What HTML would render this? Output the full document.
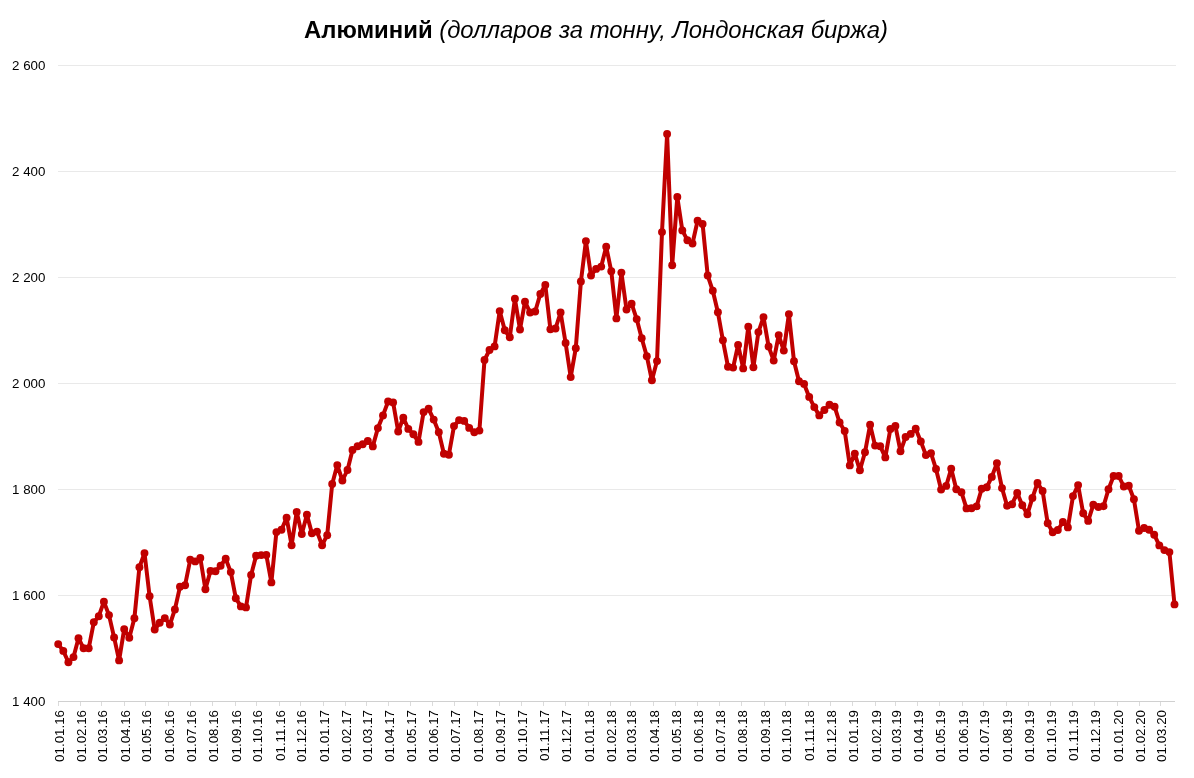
<!DOCTYPE html>
<html lang="ru">
<head>
<meta charset="utf-8">
<title>Алюминий (долларов за тонну, Лондонская биржа)</title>
<style>
html,body{margin:0;padding:0;background:#fff;}
body{width:1194px;height:778px;position:relative;overflow:hidden;font-family:"Liberation Sans",sans-serif;color:#000;}
#chart{position:absolute;left:0;top:0;width:1194px;height:778px;will-change:transform;}
svg{position:absolute;left:0;top:0;display:block;}
.yl{position:absolute;left:0;width:45.4px;text-align:right;font-size:13.33px;line-height:16px;height:16px;white-space:pre;}
.xl{position:absolute;font-size:13.33px;line-height:16px;height:16px;width:60px;text-align:right;white-space:nowrap;transform-origin:100% 50%;transform:rotate(-90deg);}
h1{position:absolute;left:304px;top:14px;margin:0;font-size:24px;line-height:30px;font-weight:bold;white-space:nowrap;color:transparent;width:585px;overflow:hidden;}
h1 i{font-weight:normal;}
</style>
</head>
<body>
<div id="chart">

<svg width="1194" height="778" viewBox="0 0 1194 778">
<g stroke="#e9e9e9" stroke-width="1" fill="none" shape-rendering="crispEdges">
<line x1="58.0" y1="595.5" x2="1175.5" y2="595.5"/>
<line x1="58.0" y1="489.5" x2="1175.5" y2="489.5"/>
<line x1="58.0" y1="383.5" x2="1175.5" y2="383.5"/>
<line x1="58.0" y1="277.5" x2="1175.5" y2="277.5"/>
<line x1="58.0" y1="171.5" x2="1175.5" y2="171.5"/>
<line x1="58.0" y1="65.5" x2="1175.5" y2="65.5"/>
</g>
<g stroke="#dbdbdb" stroke-width="1" fill="none" shape-rendering="crispEdges">
<line x1="58.0" y1="701.5" x2="1175.0" y2="701.5" stroke="#d0d0d0"/>
<line x1="58.50" y1="702.0" x2="58.50" y2="706.0"/>
<line x1="80.50" y1="702.0" x2="80.50" y2="706.0"/>
<line x1="101.50" y1="702.0" x2="101.50" y2="706.0"/>
<line x1="124.50" y1="702.0" x2="124.50" y2="706.0"/>
<line x1="145.50" y1="702.0" x2="145.50" y2="706.0"/>
<line x1="168.50" y1="702.0" x2="168.50" y2="706.0"/>
<line x1="190.50" y1="702.0" x2="190.50" y2="706.0"/>
<line x1="212.50" y1="702.0" x2="212.50" y2="706.0"/>
<line x1="235.50" y1="702.0" x2="235.50" y2="706.0"/>
<line x1="256.50" y1="702.0" x2="256.50" y2="706.0"/>
<line x1="279.50" y1="702.0" x2="279.50" y2="706.0"/>
<line x1="300.50" y1="702.0" x2="300.50" y2="706.0"/>
<line x1="323.50" y1="702.0" x2="323.50" y2="706.0"/>
<line x1="345.50" y1="702.0" x2="345.50" y2="706.0"/>
<line x1="366.50" y1="702.0" x2="366.50" y2="706.0"/>
<line x1="388.50" y1="702.0" x2="388.50" y2="706.0"/>
<line x1="410.50" y1="702.0" x2="410.50" y2="706.0"/>
<line x1="432.50" y1="702.0" x2="432.50" y2="706.0"/>
<line x1="454.50" y1="702.0" x2="454.50" y2="706.0"/>
<line x1="477.50" y1="702.0" x2="477.50" y2="706.0"/>
<line x1="499.50" y1="702.0" x2="499.50" y2="706.0"/>
<line x1="521.50" y1="702.0" x2="521.50" y2="706.0"/>
<line x1="543.50" y1="702.0" x2="543.50" y2="706.0"/>
<line x1="565.50" y1="702.0" x2="565.50" y2="706.0"/>
<line x1="588.50" y1="702.0" x2="588.50" y2="706.0"/>
<line x1="610.50" y1="702.0" x2="610.50" y2="706.0"/>
<line x1="630.50" y1="702.0" x2="630.50" y2="706.0"/>
<line x1="653.50" y1="702.0" x2="653.50" y2="706.0"/>
<line x1="675.50" y1="702.0" x2="675.50" y2="706.0"/>
<line x1="697.50" y1="702.0" x2="697.50" y2="706.0"/>
<line x1="719.50" y1="702.0" x2="719.50" y2="706.0"/>
<line x1="741.50" y1="702.0" x2="741.50" y2="706.0"/>
<line x1="764.50" y1="702.0" x2="764.50" y2="706.0"/>
<line x1="785.50" y1="702.0" x2="785.50" y2="706.0"/>
<line x1="808.50" y1="702.0" x2="808.50" y2="706.0"/>
<line x1="830.50" y1="702.0" x2="830.50" y2="706.0"/>
<line x1="852.50" y1="702.0" x2="852.50" y2="706.0"/>
<line x1="875.50" y1="702.0" x2="875.50" y2="706.0"/>
<line x1="895.50" y1="702.0" x2="895.50" y2="706.0"/>
<line x1="917.50" y1="702.0" x2="917.50" y2="706.0"/>
<line x1="939.50" y1="702.0" x2="939.50" y2="706.0"/>
<line x1="962.50" y1="702.0" x2="962.50" y2="706.0"/>
<line x1="983.50" y1="702.0" x2="983.50" y2="706.0"/>
<line x1="1006.50" y1="702.0" x2="1006.50" y2="706.0"/>
<line x1="1028.50" y1="702.0" x2="1028.50" y2="706.0"/>
<line x1="1050.50" y1="702.0" x2="1050.50" y2="706.0"/>
<line x1="1072.50" y1="702.0" x2="1072.50" y2="706.0"/>
<line x1="1094.50" y1="702.0" x2="1094.50" y2="706.0"/>
<line x1="1117.50" y1="702.0" x2="1117.50" y2="706.0"/>
<line x1="1139.50" y1="702.0" x2="1139.50" y2="706.0"/>
<line x1="1160.50" y1="702.0" x2="1160.50" y2="706.0"/>
</g>
<polyline fill="none" stroke="#c00000" stroke-width="4" stroke-linejoin="round" stroke-linecap="round" points="58.2,644.1 63.3,650.9 68.4,662.3 73.5,657.1 78.5,638.2 83.6,648.3 88.7,648.3 93.8,622.3 98.8,616.2 103.9,601.7 109.0,615.1 114.1,637.4 119.1,660.4 124.2,629.1 129.3,637.7 134.4,618.2 139.4,567.2 144.5,553.1 149.6,596.2 154.7,629.5 159.7,622.8 164.8,618.1 169.9,624.5 174.9,609.4 180.0,586.8 185.1,585.2 190.2,559.8 195.2,561.4 200.3,558.0 205.4,589.3 210.5,570.9 215.5,571.2 220.6,565.8 225.7,558.8 230.8,572.1 235.8,598.2 240.9,606.4 246.0,607.4 251.1,574.9 256.1,555.8 261.2,555.1 266.3,554.9 271.4,582.4 276.4,532.1 281.5,529.8 286.6,517.8 291.6,545.2 296.7,512.0 301.8,534.1 306.9,514.7 311.9,533.3 317.0,531.6 322.1,545.2 327.2,535.2 332.2,483.9 337.3,465.1 342.4,480.5 347.5,470.0 352.5,449.9 357.6,446.3 362.7,444.3 367.8,441.0 372.8,446.4 377.9,428.1 383.0,415.4 388.1,401.5 393.1,402.4 398.2,431.5 403.3,417.8 408.3,428.9 413.4,434.3 418.5,441.9 423.6,412.1 428.6,408.8 433.7,419.6 438.8,432.2 443.9,453.7 448.9,454.7 454.0,426.1 459.1,420.1 464.2,420.9 469.2,427.9 474.3,432.3 479.4,430.6 484.5,360.0 489.5,350.0 494.6,346.4 499.7,311.1 504.8,330.3 509.8,337.3 514.9,298.8 520.0,329.5 525.0,301.7 530.1,312.5 535.2,311.5 540.3,294.0 545.3,285.0 550.4,329.2 555.5,328.5 560.6,312.5 565.6,343.0 570.7,377.1 575.8,348.2 580.9,281.5 585.9,241.1 591.0,275.6 596.1,268.9 601.2,266.6 606.2,246.7 611.3,271.3 616.4,318.4 621.4,272.6 626.5,309.5 631.6,303.7 636.7,319.1 641.7,338.3 646.8,356.2 651.9,380.3 657.0,361.1 662.0,232.1 667.1,134.0 672.2,265.3 677.3,197.0 682.3,230.4 687.4,240.2 692.5,243.5 697.6,220.8 702.6,224.0 707.7,275.5 712.8,290.8 717.9,312.3 722.9,340.3 728.0,366.7 733.1,367.6 738.1,345.0 743.2,368.4 748.3,326.8 753.4,367.3 758.4,332.1 763.5,317.1 768.6,346.5 773.7,360.6 778.7,335.1 783.8,350.6 788.9,314.1 794.0,361.3 799.0,381.3 804.1,383.9 809.2,396.9 814.3,407.1 819.3,415.4 824.4,410.0 829.5,404.8 834.6,406.7 839.6,422.5 844.7,431.0 849.8,465.4 854.8,453.6 859.9,470.3 865.0,452.3 870.1,424.8 875.1,445.6 880.2,446.2 885.3,457.4 890.4,428.9 895.4,425.9 900.5,451.3 905.6,437.0 910.7,433.9 915.7,428.8 920.8,441.4 925.9,455.1 931.0,453.2 936.0,469.0 941.1,489.6 946.2,485.9 951.2,468.8 956.3,489.2 961.4,492.2 966.5,508.4 971.5,508.2 976.6,506.4 981.7,488.8 986.8,487.2 991.8,476.9 996.9,463.1 1002.0,488.1 1007.1,505.7 1012.1,504.2 1017.2,493.0 1022.3,505.3 1027.4,514.3 1032.4,497.9 1037.5,483.0 1042.6,490.9 1047.7,523.3 1052.7,532.2 1057.8,530.0 1062.9,522.0 1067.9,527.4 1073.0,496.1 1078.1,485.1 1083.2,513.3 1088.2,520.9 1093.3,504.8 1098.4,507.0 1103.5,506.2 1108.5,489.2 1113.6,476.0 1118.7,476.0 1123.8,486.5 1128.8,485.8 1133.9,499.2 1139.0,530.7 1144.1,528.0 1149.1,529.8 1154.2,534.7 1159.3,545.4 1164.4,550.1 1169.4,552.1 1174.5,604.4"/>
<g fill="#c00000">
<circle cx="58.2" cy="644.1" r="3.95"/>
<circle cx="63.3" cy="650.9" r="3.95"/>
<circle cx="68.4" cy="662.3" r="3.95"/>
<circle cx="73.5" cy="657.1" r="3.95"/>
<circle cx="78.5" cy="638.2" r="3.95"/>
<circle cx="83.6" cy="648.3" r="3.95"/>
<circle cx="88.7" cy="648.3" r="3.95"/>
<circle cx="93.8" cy="622.3" r="3.95"/>
<circle cx="98.8" cy="616.2" r="3.95"/>
<circle cx="103.9" cy="601.7" r="3.95"/>
<circle cx="109.0" cy="615.1" r="3.95"/>
<circle cx="114.1" cy="637.4" r="3.95"/>
<circle cx="119.1" cy="660.4" r="3.95"/>
<circle cx="124.2" cy="629.1" r="3.95"/>
<circle cx="129.3" cy="637.7" r="3.95"/>
<circle cx="134.4" cy="618.2" r="3.95"/>
<circle cx="139.4" cy="567.2" r="3.95"/>
<circle cx="144.5" cy="553.1" r="3.95"/>
<circle cx="149.6" cy="596.2" r="3.95"/>
<circle cx="154.7" cy="629.5" r="3.95"/>
<circle cx="159.7" cy="622.8" r="3.95"/>
<circle cx="164.8" cy="618.1" r="3.95"/>
<circle cx="169.9" cy="624.5" r="3.95"/>
<circle cx="174.9" cy="609.4" r="3.95"/>
<circle cx="180.0" cy="586.8" r="3.95"/>
<circle cx="185.1" cy="585.2" r="3.95"/>
<circle cx="190.2" cy="559.8" r="3.95"/>
<circle cx="195.2" cy="561.4" r="3.95"/>
<circle cx="200.3" cy="558.0" r="3.95"/>
<circle cx="205.4" cy="589.3" r="3.95"/>
<circle cx="210.5" cy="570.9" r="3.95"/>
<circle cx="215.5" cy="571.2" r="3.95"/>
<circle cx="220.6" cy="565.8" r="3.95"/>
<circle cx="225.7" cy="558.8" r="3.95"/>
<circle cx="230.8" cy="572.1" r="3.95"/>
<circle cx="235.8" cy="598.2" r="3.95"/>
<circle cx="240.9" cy="606.4" r="3.95"/>
<circle cx="246.0" cy="607.4" r="3.95"/>
<circle cx="251.1" cy="574.9" r="3.95"/>
<circle cx="256.1" cy="555.8" r="3.95"/>
<circle cx="261.2" cy="555.1" r="3.95"/>
<circle cx="266.3" cy="554.9" r="3.95"/>
<circle cx="271.4" cy="582.4" r="3.95"/>
<circle cx="276.4" cy="532.1" r="3.95"/>
<circle cx="281.5" cy="529.8" r="3.95"/>
<circle cx="286.6" cy="517.8" r="3.95"/>
<circle cx="291.6" cy="545.2" r="3.95"/>
<circle cx="296.7" cy="512.0" r="3.95"/>
<circle cx="301.8" cy="534.1" r="3.95"/>
<circle cx="306.9" cy="514.7" r="3.95"/>
<circle cx="311.9" cy="533.3" r="3.95"/>
<circle cx="317.0" cy="531.6" r="3.95"/>
<circle cx="322.1" cy="545.2" r="3.95"/>
<circle cx="327.2" cy="535.2" r="3.95"/>
<circle cx="332.2" cy="483.9" r="3.95"/>
<circle cx="337.3" cy="465.1" r="3.95"/>
<circle cx="342.4" cy="480.5" r="3.95"/>
<circle cx="347.5" cy="470.0" r="3.95"/>
<circle cx="352.5" cy="449.9" r="3.95"/>
<circle cx="357.6" cy="446.3" r="3.95"/>
<circle cx="362.7" cy="444.3" r="3.95"/>
<circle cx="367.8" cy="441.0" r="3.95"/>
<circle cx="372.8" cy="446.4" r="3.95"/>
<circle cx="377.9" cy="428.1" r="3.95"/>
<circle cx="383.0" cy="415.4" r="3.95"/>
<circle cx="388.1" cy="401.5" r="3.95"/>
<circle cx="393.1" cy="402.4" r="3.95"/>
<circle cx="398.2" cy="431.5" r="3.95"/>
<circle cx="403.3" cy="417.8" r="3.95"/>
<circle cx="408.3" cy="428.9" r="3.95"/>
<circle cx="413.4" cy="434.3" r="3.95"/>
<circle cx="418.5" cy="441.9" r="3.95"/>
<circle cx="423.6" cy="412.1" r="3.95"/>
<circle cx="428.6" cy="408.8" r="3.95"/>
<circle cx="433.7" cy="419.6" r="3.95"/>
<circle cx="438.8" cy="432.2" r="3.95"/>
<circle cx="443.9" cy="453.7" r="3.95"/>
<circle cx="448.9" cy="454.7" r="3.95"/>
<circle cx="454.0" cy="426.1" r="3.95"/>
<circle cx="459.1" cy="420.1" r="3.95"/>
<circle cx="464.2" cy="420.9" r="3.95"/>
<circle cx="469.2" cy="427.9" r="3.95"/>
<circle cx="474.3" cy="432.3" r="3.95"/>
<circle cx="479.4" cy="430.6" r="3.95"/>
<circle cx="484.5" cy="360.0" r="3.95"/>
<circle cx="489.5" cy="350.0" r="3.95"/>
<circle cx="494.6" cy="346.4" r="3.95"/>
<circle cx="499.7" cy="311.1" r="3.95"/>
<circle cx="504.8" cy="330.3" r="3.95"/>
<circle cx="509.8" cy="337.3" r="3.95"/>
<circle cx="514.9" cy="298.8" r="3.95"/>
<circle cx="520.0" cy="329.5" r="3.95"/>
<circle cx="525.0" cy="301.7" r="3.95"/>
<circle cx="530.1" cy="312.5" r="3.95"/>
<circle cx="535.2" cy="311.5" r="3.95"/>
<circle cx="540.3" cy="294.0" r="3.95"/>
<circle cx="545.3" cy="285.0" r="3.95"/>
<circle cx="550.4" cy="329.2" r="3.95"/>
<circle cx="555.5" cy="328.5" r="3.95"/>
<circle cx="560.6" cy="312.5" r="3.95"/>
<circle cx="565.6" cy="343.0" r="3.95"/>
<circle cx="570.7" cy="377.1" r="3.95"/>
<circle cx="575.8" cy="348.2" r="3.95"/>
<circle cx="580.9" cy="281.5" r="3.95"/>
<circle cx="585.9" cy="241.1" r="3.95"/>
<circle cx="591.0" cy="275.6" r="3.95"/>
<circle cx="596.1" cy="268.9" r="3.95"/>
<circle cx="601.2" cy="266.6" r="3.95"/>
<circle cx="606.2" cy="246.7" r="3.95"/>
<circle cx="611.3" cy="271.3" r="3.95"/>
<circle cx="616.4" cy="318.4" r="3.95"/>
<circle cx="621.4" cy="272.6" r="3.95"/>
<circle cx="626.5" cy="309.5" r="3.95"/>
<circle cx="631.6" cy="303.7" r="3.95"/>
<circle cx="636.7" cy="319.1" r="3.95"/>
<circle cx="641.7" cy="338.3" r="3.95"/>
<circle cx="646.8" cy="356.2" r="3.95"/>
<circle cx="651.9" cy="380.3" r="3.95"/>
<circle cx="657.0" cy="361.1" r="3.95"/>
<circle cx="662.0" cy="232.1" r="3.95"/>
<circle cx="667.1" cy="134.0" r="3.95"/>
<circle cx="672.2" cy="265.3" r="3.95"/>
<circle cx="677.3" cy="197.0" r="3.95"/>
<circle cx="682.3" cy="230.4" r="3.95"/>
<circle cx="687.4" cy="240.2" r="3.95"/>
<circle cx="692.5" cy="243.5" r="3.95"/>
<circle cx="697.6" cy="220.8" r="3.95"/>
<circle cx="702.6" cy="224.0" r="3.95"/>
<circle cx="707.7" cy="275.5" r="3.95"/>
<circle cx="712.8" cy="290.8" r="3.95"/>
<circle cx="717.9" cy="312.3" r="3.95"/>
<circle cx="722.9" cy="340.3" r="3.95"/>
<circle cx="728.0" cy="366.7" r="3.95"/>
<circle cx="733.1" cy="367.6" r="3.95"/>
<circle cx="738.1" cy="345.0" r="3.95"/>
<circle cx="743.2" cy="368.4" r="3.95"/>
<circle cx="748.3" cy="326.8" r="3.95"/>
<circle cx="753.4" cy="367.3" r="3.95"/>
<circle cx="758.4" cy="332.1" r="3.95"/>
<circle cx="763.5" cy="317.1" r="3.95"/>
<circle cx="768.6" cy="346.5" r="3.95"/>
<circle cx="773.7" cy="360.6" r="3.95"/>
<circle cx="778.7" cy="335.1" r="3.95"/>
<circle cx="783.8" cy="350.6" r="3.95"/>
<circle cx="788.9" cy="314.1" r="3.95"/>
<circle cx="794.0" cy="361.3" r="3.95"/>
<circle cx="799.0" cy="381.3" r="3.95"/>
<circle cx="804.1" cy="383.9" r="3.95"/>
<circle cx="809.2" cy="396.9" r="3.95"/>
<circle cx="814.3" cy="407.1" r="3.95"/>
<circle cx="819.3" cy="415.4" r="3.95"/>
<circle cx="824.4" cy="410.0" r="3.95"/>
<circle cx="829.5" cy="404.8" r="3.95"/>
<circle cx="834.6" cy="406.7" r="3.95"/>
<circle cx="839.6" cy="422.5" r="3.95"/>
<circle cx="844.7" cy="431.0" r="3.95"/>
<circle cx="849.8" cy="465.4" r="3.95"/>
<circle cx="854.8" cy="453.6" r="3.95"/>
<circle cx="859.9" cy="470.3" r="3.95"/>
<circle cx="865.0" cy="452.3" r="3.95"/>
<circle cx="870.1" cy="424.8" r="3.95"/>
<circle cx="875.1" cy="445.6" r="3.95"/>
<circle cx="880.2" cy="446.2" r="3.95"/>
<circle cx="885.3" cy="457.4" r="3.95"/>
<circle cx="890.4" cy="428.9" r="3.95"/>
<circle cx="895.4" cy="425.9" r="3.95"/>
<circle cx="900.5" cy="451.3" r="3.95"/>
<circle cx="905.6" cy="437.0" r="3.95"/>
<circle cx="910.7" cy="433.9" r="3.95"/>
<circle cx="915.7" cy="428.8" r="3.95"/>
<circle cx="920.8" cy="441.4" r="3.95"/>
<circle cx="925.9" cy="455.1" r="3.95"/>
<circle cx="931.0" cy="453.2" r="3.95"/>
<circle cx="936.0" cy="469.0" r="3.95"/>
<circle cx="941.1" cy="489.6" r="3.95"/>
<circle cx="946.2" cy="485.9" r="3.95"/>
<circle cx="951.2" cy="468.8" r="3.95"/>
<circle cx="956.3" cy="489.2" r="3.95"/>
<circle cx="961.4" cy="492.2" r="3.95"/>
<circle cx="966.5" cy="508.4" r="3.95"/>
<circle cx="971.5" cy="508.2" r="3.95"/>
<circle cx="976.6" cy="506.4" r="3.95"/>
<circle cx="981.7" cy="488.8" r="3.95"/>
<circle cx="986.8" cy="487.2" r="3.95"/>
<circle cx="991.8" cy="476.9" r="3.95"/>
<circle cx="996.9" cy="463.1" r="3.95"/>
<circle cx="1002.0" cy="488.1" r="3.95"/>
<circle cx="1007.1" cy="505.7" r="3.95"/>
<circle cx="1012.1" cy="504.2" r="3.95"/>
<circle cx="1017.2" cy="493.0" r="3.95"/>
<circle cx="1022.3" cy="505.3" r="3.95"/>
<circle cx="1027.4" cy="514.3" r="3.95"/>
<circle cx="1032.4" cy="497.9" r="3.95"/>
<circle cx="1037.5" cy="483.0" r="3.95"/>
<circle cx="1042.6" cy="490.9" r="3.95"/>
<circle cx="1047.7" cy="523.3" r="3.95"/>
<circle cx="1052.7" cy="532.2" r="3.95"/>
<circle cx="1057.8" cy="530.0" r="3.95"/>
<circle cx="1062.9" cy="522.0" r="3.95"/>
<circle cx="1067.9" cy="527.4" r="3.95"/>
<circle cx="1073.0" cy="496.1" r="3.95"/>
<circle cx="1078.1" cy="485.1" r="3.95"/>
<circle cx="1083.2" cy="513.3" r="3.95"/>
<circle cx="1088.2" cy="520.9" r="3.95"/>
<circle cx="1093.3" cy="504.8" r="3.95"/>
<circle cx="1098.4" cy="507.0" r="3.95"/>
<circle cx="1103.5" cy="506.2" r="3.95"/>
<circle cx="1108.5" cy="489.2" r="3.95"/>
<circle cx="1113.6" cy="476.0" r="3.95"/>
<circle cx="1118.7" cy="476.0" r="3.95"/>
<circle cx="1123.8" cy="486.5" r="3.95"/>
<circle cx="1128.8" cy="485.8" r="3.95"/>
<circle cx="1133.9" cy="499.2" r="3.95"/>
<circle cx="1139.0" cy="530.7" r="3.95"/>
<circle cx="1144.1" cy="528.0" r="3.95"/>
<circle cx="1149.1" cy="529.8" r="3.95"/>
<circle cx="1154.2" cy="534.7" r="3.95"/>
<circle cx="1159.3" cy="545.4" r="3.95"/>
<circle cx="1164.4" cy="550.1" r="3.95"/>
<circle cx="1169.4" cy="552.1" r="3.95"/>
<circle cx="1174.5" cy="604.4" r="3.95"/>
</g>
<text x="304" y="38" font-family="&quot;Liberation Sans&quot;, sans-serif" font-size="23" fill="#000" textLength="584" lengthAdjust="spacingAndGlyphs" xml:space="preserve"><tspan font-weight="bold">Алюминий </tspan><tspan font-style="italic">(долларов за тонну, Лондонская биржа)</tspan></text>
</svg>
<h1>Алюминий <i>(долларов за тонну, Лондонская биржа)</i></h1>
<div class="yl" style="top:694.2px">1 400</div>
<div class="yl" style="top:588.2px">1 600</div>
<div class="yl" style="top:482.2px">1 800</div>
<div class="yl" style="top:376.2px">2 000</div>
<div class="yl" style="top:270.2px">2 200</div>
<div class="yl" style="top:164.2px">2 400</div>
<div class="yl" style="top:58.2px">2 600</div>
<div class="xl" style="left:-0.2px;top:702.0px">01.01.16</div>
<div class="xl" style="left:21.8px;top:702.0px">01.02.16</div>
<div class="xl" style="left:42.8px;top:702.0px">01.03.16</div>
<div class="xl" style="left:65.8px;top:702.0px">01.04.16</div>
<div class="xl" style="left:86.8px;top:702.0px">01.05.16</div>
<div class="xl" style="left:109.8px;top:702.0px">01.06.16</div>
<div class="xl" style="left:131.8px;top:702.0px">01.07.16</div>
<div class="xl" style="left:153.8px;top:702.0px">01.08.16</div>
<div class="xl" style="left:176.8px;top:702.0px">01.09.16</div>
<div class="xl" style="left:197.8px;top:702.0px">01.10.16</div>
<div class="xl" style="left:220.8px;top:702.0px">01.11.16</div>
<div class="xl" style="left:241.8px;top:702.0px">01.12.16</div>
<div class="xl" style="left:264.8px;top:702.0px">01.01.17</div>
<div class="xl" style="left:286.8px;top:702.0px">01.02.17</div>
<div class="xl" style="left:307.8px;top:702.0px">01.03.17</div>
<div class="xl" style="left:329.8px;top:702.0px">01.04.17</div>
<div class="xl" style="left:351.8px;top:702.0px">01.05.17</div>
<div class="xl" style="left:373.8px;top:702.0px">01.06.17</div>
<div class="xl" style="left:395.8px;top:702.0px">01.07.17</div>
<div class="xl" style="left:418.8px;top:702.0px">01.08.17</div>
<div class="xl" style="left:440.8px;top:702.0px">01.09.17</div>
<div class="xl" style="left:462.8px;top:702.0px">01.10.17</div>
<div class="xl" style="left:484.8px;top:702.0px">01.11.17</div>
<div class="xl" style="left:506.8px;top:702.0px">01.12.17</div>
<div class="xl" style="left:529.8px;top:702.0px">01.01.18</div>
<div class="xl" style="left:551.8px;top:702.0px">01.02.18</div>
<div class="xl" style="left:571.8px;top:702.0px">01.03.18</div>
<div class="xl" style="left:594.8px;top:702.0px">01.04.18</div>
<div class="xl" style="left:616.8px;top:702.0px">01.05.18</div>
<div class="xl" style="left:638.8px;top:702.0px">01.06.18</div>
<div class="xl" style="left:660.8px;top:702.0px">01.07.18</div>
<div class="xl" style="left:682.8px;top:702.0px">01.08.18</div>
<div class="xl" style="left:705.8px;top:702.0px">01.09.18</div>
<div class="xl" style="left:726.8px;top:702.0px">01.10.18</div>
<div class="xl" style="left:749.8px;top:702.0px">01.11.18</div>
<div class="xl" style="left:771.8px;top:702.0px">01.12.18</div>
<div class="xl" style="left:793.8px;top:702.0px">01.01.19</div>
<div class="xl" style="left:816.8px;top:702.0px">01.02.19</div>
<div class="xl" style="left:836.8px;top:702.0px">01.03.19</div>
<div class="xl" style="left:858.8px;top:702.0px">01.04.19</div>
<div class="xl" style="left:880.8px;top:702.0px">01.05.19</div>
<div class="xl" style="left:903.8px;top:702.0px">01.06.19</div>
<div class="xl" style="left:924.8px;top:702.0px">01.07.19</div>
<div class="xl" style="left:947.8px;top:702.0px">01.08.19</div>
<div class="xl" style="left:969.8px;top:702.0px">01.09.19</div>
<div class="xl" style="left:991.8px;top:702.0px">01.10.19</div>
<div class="xl" style="left:1013.8px;top:702.0px">01.11.19</div>
<div class="xl" style="left:1035.8px;top:702.0px">01.12.19</div>
<div class="xl" style="left:1058.8px;top:702.0px">01.01.20</div>
<div class="xl" style="left:1080.8px;top:702.0px">01.02.20</div>
<div class="xl" style="left:1101.8px;top:702.0px">01.03.20</div>
</div>
</body>
</html>
